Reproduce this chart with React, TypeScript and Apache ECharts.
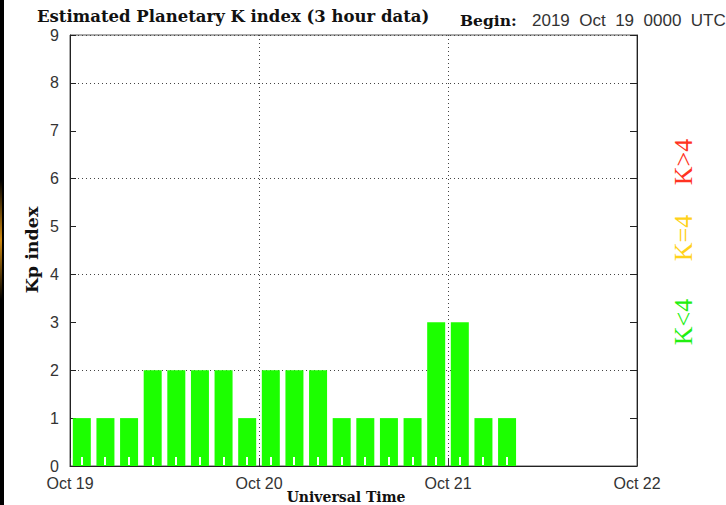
import React, { useEffect, useRef } from "react";
import * as echarts from "echarts";

const slotLabels = [
  "19 00", "19 03", "19 06", "19 09", "19 12", "19 15", "19 18", "19 21",
  "20 00", "20 03", "20 06", "20 09", "20 12", "20 15", "20 18", "20 21",
  "21 00", "21 03", "21 06", "21 09", "21 12", "21 15", "21 18", "21 21",
];
const kpValues = [1, 1, 1, 2, 2, 2, 2, 1, 2, 2, 2, 1, 1, 1, 1, 3, 3, 1, 1];
const dayLabels = ["Oct 19", "Oct 20", "Oct 21", "Oct 22"];
const legendItems = [
  { text: "K>4", color: "#ff3322", y: 162 },
  { text: "K=4", color: "#ffd21a", y: 238 },
  { text: "K<4", color: "#22ee11", y: 322 },
];

export default function App() {
  const ref = useRef<HTMLDivElement>(null);
  useEffect(() => {
    if (!ref.current) return;
    const chart = echarts.init(ref.current, null, { renderer: "svg" });
    const sans = "Liberation Sans";
    const serif = "DejaVu Serif";
    chart.setOption({
      animation: false,
      backgroundColor: "#ffffff",
      grid: {
        left: 70,
        right: 89,
        top: 35,
        bottom: 39,
        show: true,
        borderColor: "#555",
        borderWidth: 1,
        backgroundColor: "transparent",
      },
      xAxis: [
        {
          type: "value",
          position: "bottom",
          min: 0,
          max: 72,
          interval: 24,
          axisLine: { show: true, onZero: false, lineStyle: { color: "#222", width: 1 } },
          axisTick: { show: true, inside: true, length: 8, lineStyle: { color: "#333" } },
          axisLabel: {
            show: true,
            margin: 9,
            color: "#333",
            fontFamily: sans,
            fontSize: 16,
            formatter: (v: number) => dayLabels[Math.round(v / 24)] ?? "",
          },
          splitLine: { show: true, lineStyle: { color: "#444", type: [1, 3], width: 1 } },
        },
        {
          type: "category",
          position: "bottom",
          data: slotLabels,
          axisLine: { show: false, onZero: false },
          axisTick: { show: false },
          axisLabel: { show: false },
          splitLine: { show: false },
        },
      ],
      yAxis: [
        {
          type: "value",
          position: "left",
          min: 0,
          max: 9,
          interval: 1,
          axisLine: { show: true, onZero: false, lineStyle: { color: "#222", width: 1 } },
          axisTick: { show: true, inside: true, length: 6, lineStyle: { color: "#222" } },
          axisLabel: { show: true, margin: 11, color: "#333", fontFamily: sans, fontSize: 16 },
          splitLine: { show: false },
        },
        {
          type: "value",
          position: "left",
          min: 0,
          max: 9,
          interval: 2,
          axisLine: { show: false, onZero: false },
          axisTick: { show: false },
          axisLabel: { show: false },
          splitLine: { show: true, lineStyle: { color: "#444", type: [1, 3], width: 1 } },
        },
        {
          type: "value",
          position: "right",
          min: 0,
          max: 9,
          interval: 1,
          axisLine: { show: true, onZero: false, lineStyle: { color: "#222", width: 1 } },
          axisTick: { show: true, inside: true, length: 7, lineStyle: { color: "#222" } },
          axisLabel: { show: false },
          splitLine: { show: false },
        },
      ],
      series: [
        {
          type: "bar",
          xAxisIndex: 1,
          yAxisIndex: 0,
          data: kpValues,
          barWidth: 18,
          z: 2,
          itemStyle: { color: "#1cff00" },
        },
        {
          type: "custom",
          xAxisIndex: 1,
          yAxisIndex: 0,
          z: 10,
          silent: true,
          clip: false,
          data: kpValues.map((v, i) => [i, v]),
          renderItem: (params: any, api: any) => {
            const p = api.coord([api.value(0), 0]);
            return {
              type: "rect",
              shape: { x: Math.round(p[0]) - 1, y: p[1] - 9, width: 2, height: 8 },
              style: { fill: "#ffffff" },
            };
          },
        },
      ],
      graphic: [
        { type: "rect", shape: { x: 0, y: 0, width: 4, height: 505 }, style: { fill: "#000" } },
        {
          type: "rect",
          shape: { x: 0, y: 180, width: 2, height: 120 },
          style: {
            fill: new echarts.graphic.LinearGradient(0, 0, 0, 1, [
              { offset: 0, color: "#000" },
              { offset: 0.5, color: "#d08a10" },
              { offset: 1, color: "#000" },
            ]),
          },
        },
        {
          type: "text",
          x: 37,
          y: 16,
          style: {
            text: "Estimated Planetary K index (3 hour data)",
            font: `bold 16.5px "${serif}"`,
            fill: "#111",
            verticalAlign: "middle",
          },
        },
        {
          type: "text",
          x: 460,
          y: 20,
          style: { text: "Begin:", font: `bold 15.5px "${serif}"`, fill: "#111", verticalAlign: "middle" },
        },
        {
          type: "text",
          x: 532,
          y: 20,
          style: { text: "2019  Oct  19  0000  UTC", font: `17px "${sans}"`, fill: "#333", verticalAlign: "middle" },
        },
        {
          type: "text",
          x: 32,
          y: 250,
          rotation: Math.PI / 2,
          style: { text: "Kp index", font: `bold 17.5px "${serif}"`, fill: "#111", align: "center", verticalAlign: "middle" },
        },
        {
          type: "text",
          x: 346,
          y: 497,
          style: { text: "Universal Time", font: `bold 14px "${serif}"`, fill: "#111", align: "center", verticalAlign: "middle" },
        },
        ...legendItems.map((it) => ({
          type: "text",
          x: 683,
          y: it.y,
          rotation: Math.PI / 2,
          style: {
            text: it.text,
            font: `26px "Liberation Serif"`,
            fill: it.color,
            align: "center",
            verticalAlign: "middle",
          },
        })),
      ],
    });
    return () => chart.dispose();
  }, []);
  return (
    <div
      ref={ref}
      style={{ position: "fixed", left: 0, top: 0, width: 726, height: 505 }}
    />
  );
}
